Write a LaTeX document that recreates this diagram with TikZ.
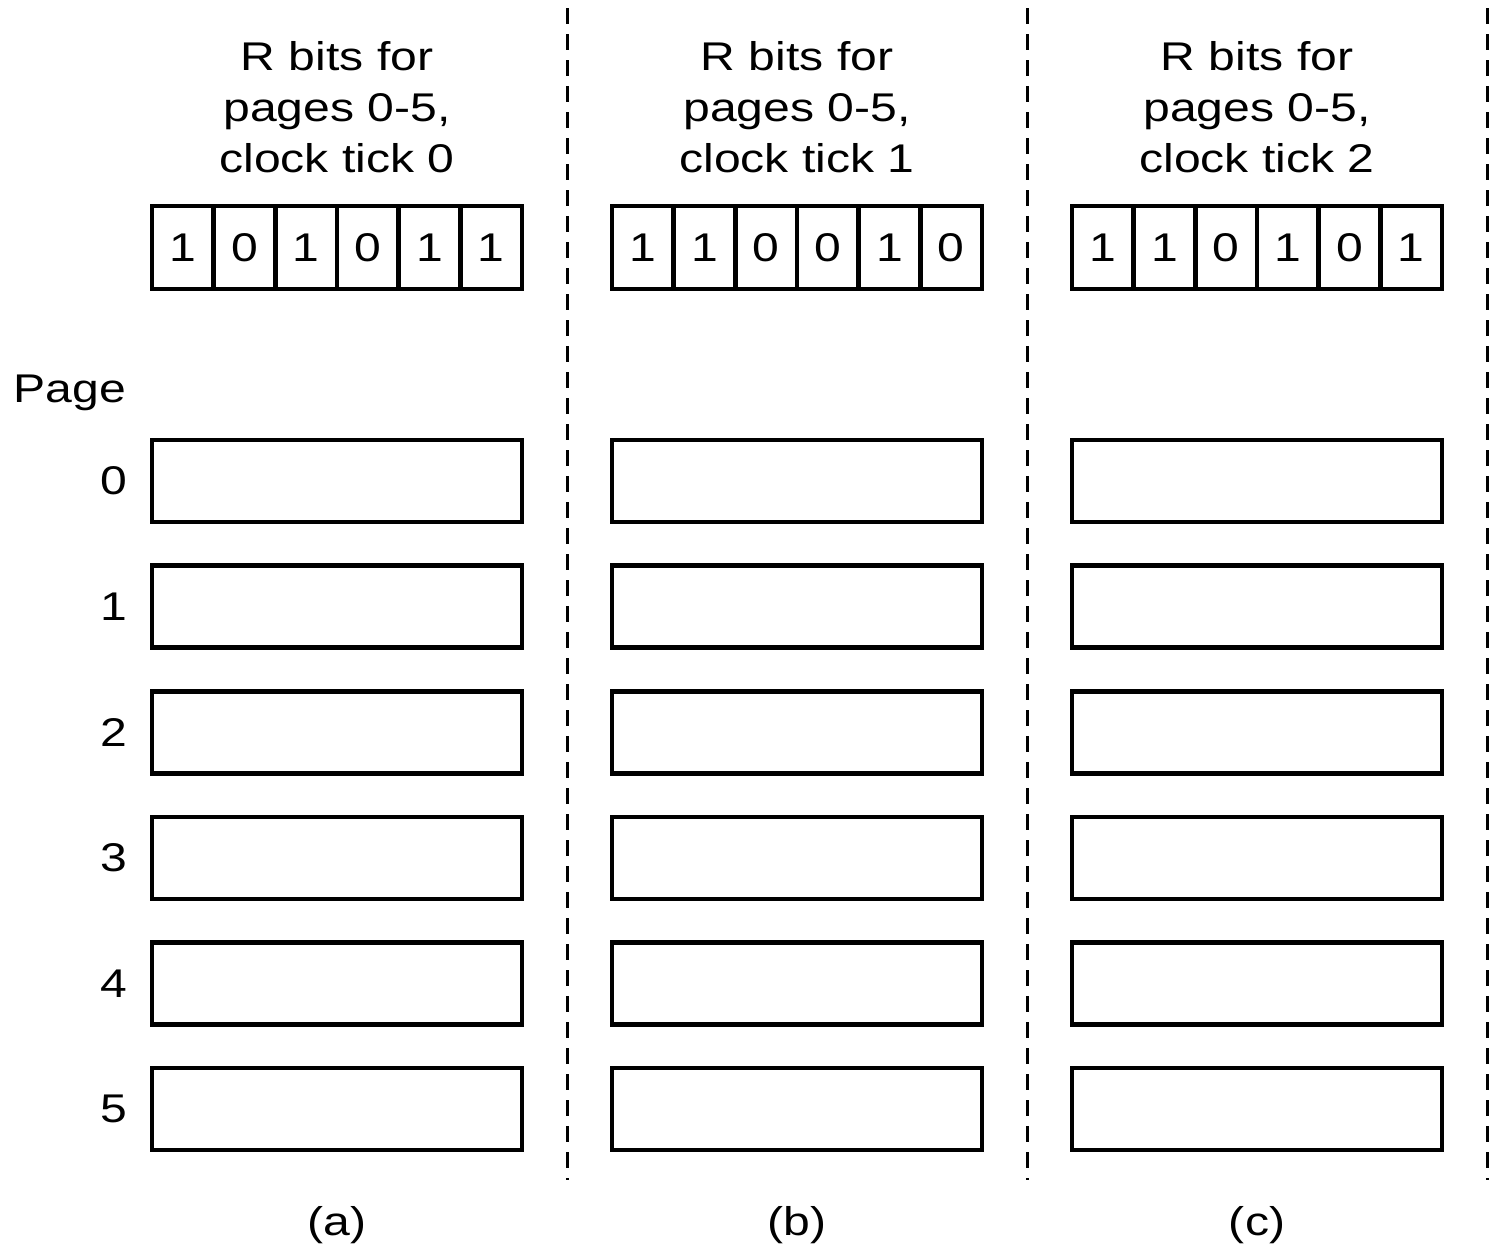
\documentclass[tikz,border=0pt]{standalone}
\usepackage{fontspec}
\setmainfont{Liberation Sans}[FakeStretch=1.2]
\usetikzlibrary{positioning}
\tikzset{
  bitcell/.style={draw, line width=1.3pt, minimum width=0.6167cm, minimum height=0.83cm, inner sep=0pt, outer sep=0pt},
  pagebox/.style={draw, line width=1.3pt, minimum width=3.70cm, minimum height=0.82cm, inner sep=0pt},
  header/.style={align=center},
  divider/.style={line width=0.85pt, dash pattern=on 0.16cm off 0.1cm}
}

\begin{document}
\begin{tikzpicture}[every node/.style={font=\fontsize{11.4}{14.6}\selectfont}]
  \useasboundingbox (0,0) rectangle (14.96,-12.52);
  \node (pagehead) at (0.70,-3.93) {Page};
  \foreach \k in {0,...,5}
    \node[anchor=east] (pnum\k) at (1.40,{-4.81-1.256*\k}) {\k};
  \foreach \p/\dx/\bits/\tick in {a/0/{1,0,1,0,1,1}/0, b/4.6/{1,1,0,0,1,0}/1, c/9.2/{1,1,0,1,0,1}/2} {
    \node[header] (head\p) at ({3.37+\dx},-1.07) {R bits for\\pages 0-5,\\clock tick \tick};
    \foreach \b [count=\i from 0] in \bits
      \node[bitcell] (bit\p\i) at ({1.52+\dx+0.6167*(\i+0.5)},-2.475) {\b};
    \foreach \k in {0,...,5}
      \node[pagebox] (page\p\k) at ({3.37+\dx},{-4.81-1.256*\k}) {};
    \node (lab\p) at ({3.37+\dx},-12.25) {(\p)};
    \draw[divider] ({5.67+\dx},-0.08) -- ({5.67+\dx},-11.8);
  }
\end{tikzpicture}
\end{document}
